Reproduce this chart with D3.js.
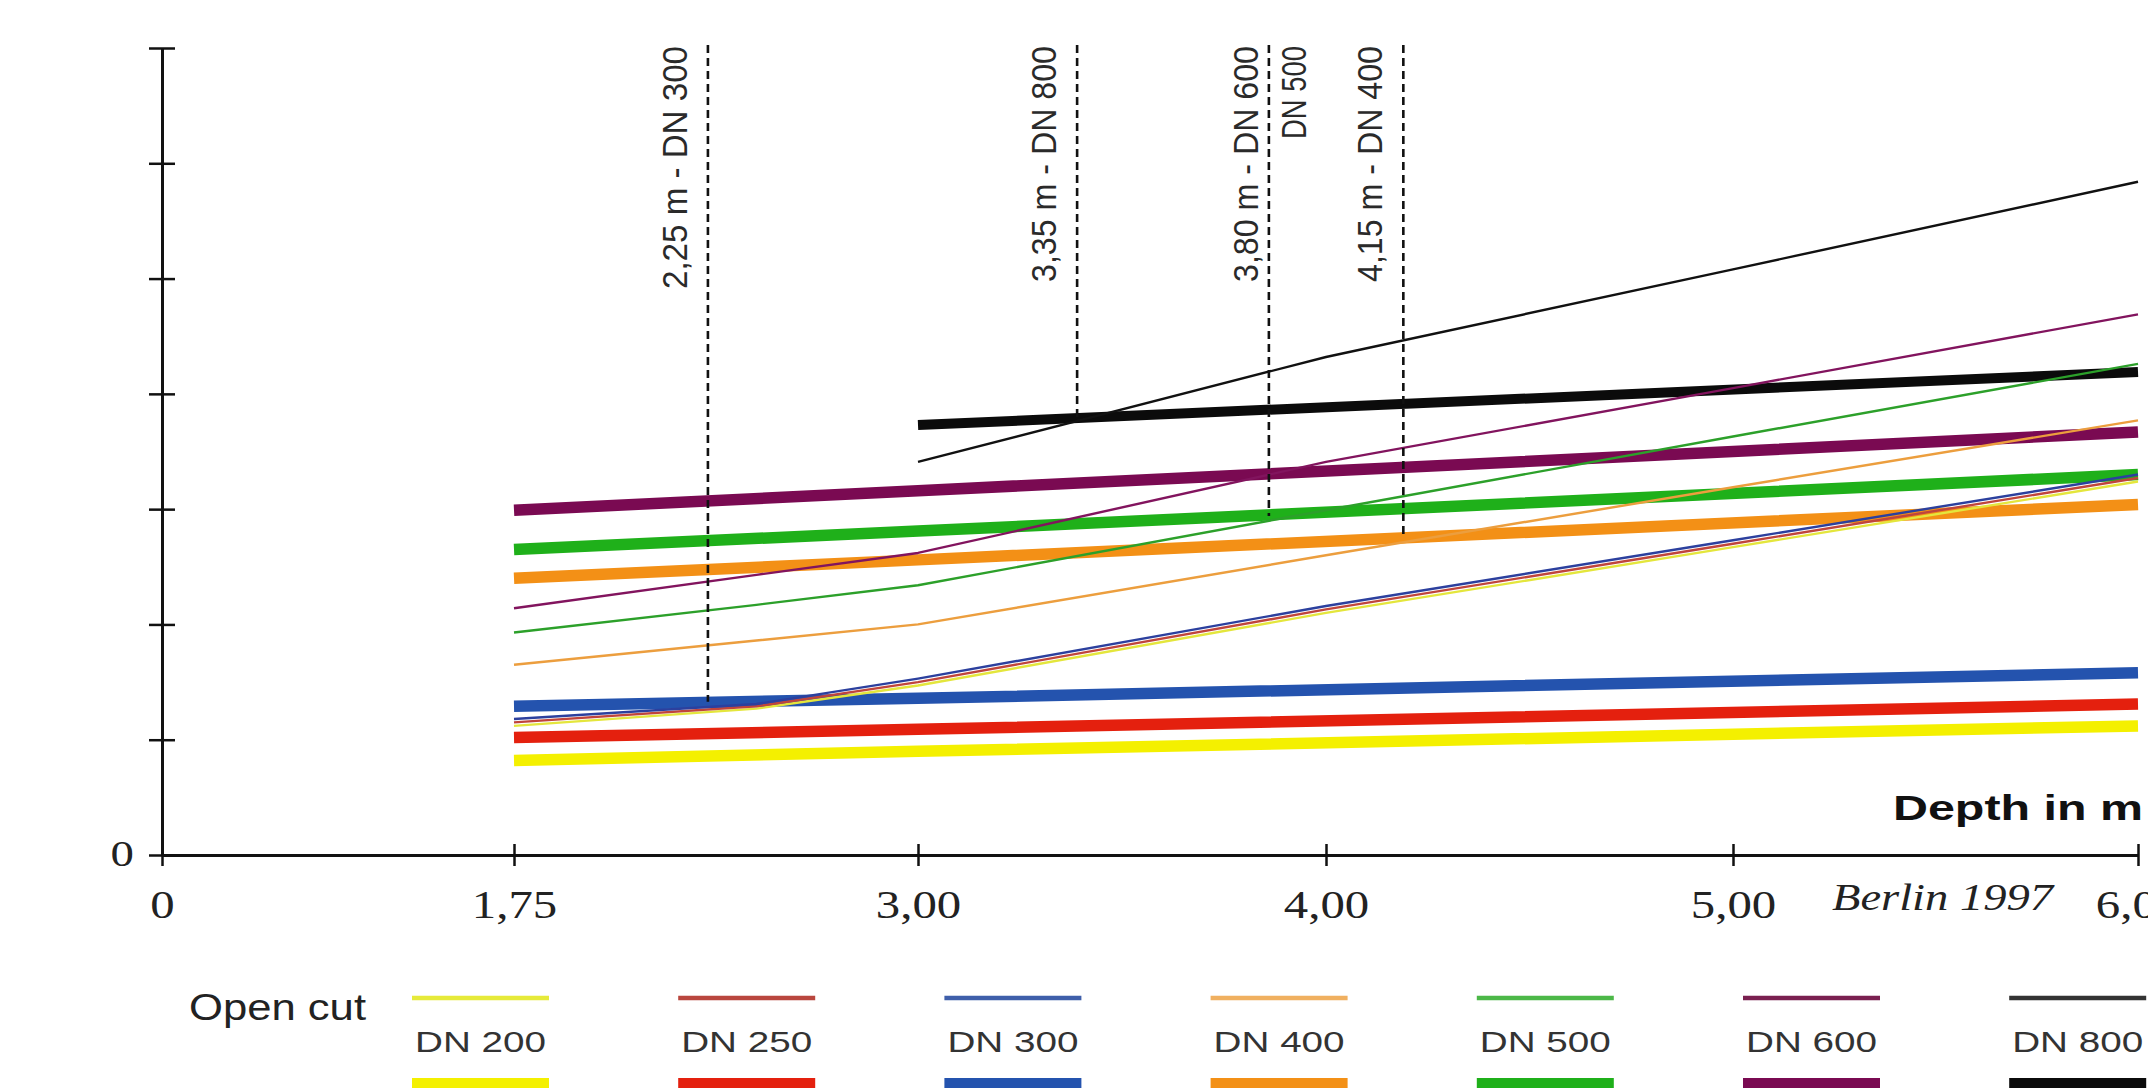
<!DOCTYPE html>
<html><head><meta charset="utf-8">
<script src="https://cdn.jsdelivr.net/npm/d3@7"></script>
<style>body{margin:0;background:#fff;overflow:hidden} svg{display:block;background:#fff}</style>
</head><body>
<svg id="chart" width="2148" height="1088"></svg>
<script>
// ---------- data ----------
const depthTicks = [0, 1.75, 3, 4, 5, 6];
const depthTickLabels = ["0", "1,75", "3,00", "4,00", "5,00", "6,00"];
const costTicks = [0, 1, 2, 3, 4, 5, 6, 7];
const diameters = ["DN 200", "DN 250", "DN 300", "DN 400", "DN 500", "DN 600", "DN 800"];

// open cut (thin lines)
const openCutDepth = [1.75, 2.5, 3.0, 4.0, 5.0, 6.0];
const openCutDN200 = [1.12, 1.27, 1.47, 2.10, 2.67, 3.24];
const openCutDN250 = [1.15, 1.29, 1.50, 2.13, 2.70, 3.27];
const openCutDN300 = [1.18, 1.31, 1.53, 2.16, 2.73, 3.30];
const openCutDN400 = [1.65, 1.86, 2.00, 2.60, 3.19, 3.77];
const openCutDN500 = [1.93, 2.17, 2.34, 2.99, 3.63, 4.26];
const openCutDN600 = [2.14, 2.43, 2.62, 3.41, 4.05, 4.69];
const openCutDN800 = [null, null, 3.41, 4.32, 5.08, 5.84];

// shored trench (thick lines)
const shoringDepth = [1.75, 3.0, 6.0];
const shoringDN200 = [0.82, 0.90, 1.12];
const shoringDN250 = [1.02, 1.09, 1.31];
const shoringDN300 = [1.29, 1.36, 1.58];
const shoringDN400 = [2.40, 2.56, 3.04];
const shoringDN500 = [2.65, 2.81, 3.30];
const shoringDN600 = [2.99, 3.16, 3.67];
const shoringDN800 = [null, 3.73, 4.19];

// break-even markers (dashed verticals)
const breakEvenDepth = [2.35, 3.39, 3.86, 4.19];
const breakEvenBottom = [1.33, 3.80, 2.94, 2.76];
const breakEvenLabels = ["2,25 m - DN 300", "3,35 m - DN 800", "3,80 m - DN 600", "4,15 m - DN 400"];
const breakEvenExtra = ["", "", "DN 500", ""];

// ---------- styles ----------
const thinColors  = ["#e4e63c", "#c0453c", "#2c409e", "#ec9e3e", "#2ca02a", "#82145e", "#111111"];
const thickColors = ["#f4f000", "#e4200e", "#2453ae", "#f39016", "#1fb01a", "#7a0a52", "#0b0b0b"];
const legendThin  = ["#e6ea3a", "#b9463e", "#3f5faa", "#f0b060", "#4cb848", "#7a2050", "#333333"];
const SANS = "'Liberation Sans', Arial, Helvetica, sans-serif";
const SERIF = "'Liberation Serif', 'Times New Roman', Times, serif";

const openCut = [openCutDN200, openCutDN250, openCutDN300, openCutDN400, openCutDN500, openCutDN600, openCutDN800];
const shoring = [shoringDN200, shoringDN250, shoringDN300, shoringDN400, shoringDN500, shoringDN600, shoringDN800];

const svg = d3.select("#chart");

const x = d3.scaleLinear().domain(depthTicks).range([162, 514, 918, 1326, 1733, 2138]);
const y = d3.scaleLinear().domain([0, 7]).range([855, 48]);

function stretch(sel, f) {
  sel.each(function () {
    const w = this.getComputedTextLength();
    this.setAttribute("textLength", w * f);
    this.setAttribute("lengthAdjust", "spacingAndGlyphs");
  });
}

// ---------- axes ----------
const gx = svg.append("g").attr("transform", `translate(0,${y(0)})`)
  .call(d3.axisBottom(x).tickValues(depthTicks).tickFormat((d, i) => depthTickLabels[i])
    .tickSize(11).tickSizeOuter(0));
gx.select(".domain").attr("stroke", "#111").attr("stroke-width", 3);
gx.selectAll(".tick line").attr("stroke", "#111").attr("stroke-width", 2.5).attr("y1", -11).attr("y2", 11);
const gxText = gx.selectAll(".tick text").attr("y", 63).attr("dy", 0)
  .attr("fill", "#222").style("font-family", SERIF).style("font-size", "40px");
stretch(gxText, 1.22);

const gy = svg.append("g").attr("transform", `translate(${x(0)},0)`)
  .call(d3.axisLeft(y).tickValues(costTicks).tickFormat(d => d === 0 ? "0" : "")
    .tickSize(13).tickSizeOuter(0));
gy.select(".domain").attr("stroke", "#111").attr("stroke-width", 3);
gy.selectAll(".tick line").attr("stroke", "#111").attr("stroke-width", 2.5).attr("x1", 13).attr("x2", -13);
const gyText = gy.selectAll(".tick text").attr("x", -28).attr("dy", 10)
  .attr("fill", "#222").style("font-family", SERIF).style("font-size", "36px");
stretch(gyText, 1.3);

// ---------- lines ----------
const plot = svg.append("g");

// thick (shoring)
shoring.forEach((vals, i) => {
  const pts = shoringDepth.map((d, j) => [d, vals[j]]);
  plot.append("path")
    .attr("d", d3.line().defined(p => p[1] != null).x(p => x(p[0])).y(p => y(p[1]))(pts))
    .attr("fill", "none").attr("stroke", thickColors[i])
    .attr("stroke-width", i === 6 ? 10 : 11.5).attr("stroke-linecap", "butt");
});

// thin (open cut) – drawn in an order that keeps blue on top of the converging low lines
const thinOrder = [0, 1, 2, 3, 4, 5, 6];
thinOrder.forEach(i => {
  const pts = openCutDepth.map((d, j) => [d, openCut[i][j]]);
  plot.append("path")
    .attr("d", d3.line().defined(p => p[1] != null).x(p => x(p[0])).y(p => y(p[1]))(pts))
    .attr("fill", "none").attr("stroke", thinColors[i])
    .attr("stroke-width", 2.4).attr("stroke-linejoin", "round");
});

// ---------- break-even markers ----------
breakEvenDepth.forEach((d, i) => {
  const xp = x(d);
  svg.append("line")
    .attr("x1", xp).attr("x2", xp).attr("y1", y(7) - 3).attr("y2", y(breakEvenBottom[i]))
    .attr("stroke", "#111").attr("stroke-width", 2.6).attr("stroke-dasharray", "8,5");
  const hasExtra = breakEvenExtra[i] !== "";
  const off = hasExtra ? -11 : -21;
  svg.append("text")
    .attr("transform", `translate(${xp + off},${y(7) - 2}) rotate(-90)`)
    .attr("text-anchor", "end").attr("fill", "#2a2a2a")
    .style("font-family", SANS).style("font-size", "35px")
    .attr("textLength", i === 0 ? 243 : 236).attr("lengthAdjust", "spacingAndGlyphs")
    .text(breakEvenLabels[i]);
  if (hasExtra) {
    svg.append("text")
      .attr("transform", `translate(${xp + 37},${y(7) - 2}) rotate(-90)`)
      .attr("text-anchor", "end").attr("fill", "#2a2a2a")
      .style("font-family", SANS).style("font-size", "35px")
      .attr("textLength", 93).attr("lengthAdjust", "spacingAndGlyphs")
      .text(breakEvenExtra[i]);
  }
});

// ---------- axis annotations ----------
svg.append("text")
  .attr("x", x(6) + 5).attr("y", y(0) - 35).attr("text-anchor", "end")
  .attr("fill", "#111").style("font-family", SANS).style("font-weight", "bold").style("font-size", "35px")
  .attr("textLength", 250).attr("lengthAdjust", "spacingAndGlyphs")
  .text("Depth in m");

svg.append("text")
  .attr("x", x(6) - 85).attr("y", y(0) + 55).attr("text-anchor", "end")
  .attr("fill", "#222").style("font-family", SERIF).style("font-style", "italic").style("font-size", "38px")
  .attr("textLength", 221).attr("lengthAdjust", "spacingAndGlyphs")
  .text("Berlin 1997");

// ---------- legend ----------
const leg = svg.append("g");
leg.append("text").attr("x", 189).attr("y", 1020)
  .attr("fill", "#222").style("font-family", SANS).style("font-size", "36px")
  .attr("textLength", 177).attr("lengthAdjust", "spacingAndGlyphs")
  .text("Open cut");

diameters.forEach((name, i) => {
  const x0 = 412 + i * 266.2, w = 137;
  leg.append("line").attr("x1", x0).attr("x2", x0 + w).attr("y1", 998).attr("y2", 998)
    .attr("stroke", legendThin[i]).attr("stroke-width", 4.5);
  leg.append("text").attr("x", x0 + w / 2).attr("y", 1052).attr("text-anchor", "middle")
    .attr("fill", "#333").style("font-family", SANS).style("font-size", "29px")
    .attr("textLength", 131).attr("lengthAdjust", "spacingAndGlyphs")
    .text(name);
  leg.append("rect").attr("x", x0).attr("y", 1078).attr("width", w).attr("height", 16)
    .attr("fill", thickColors[i]);
});
</script>
</body></html>
